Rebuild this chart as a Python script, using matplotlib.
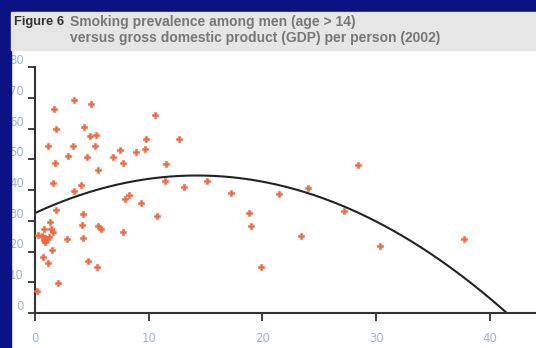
import numpy as np
import matplotlib
matplotlib.use('Agg')
import matplotlib.pyplot as plt
from matplotlib.patches import Rectangle

# GDP per person (thousand US$) and male smoking prevalence (%) by country
gdp = [1.67, 3.46, 4.95, 1.85, 4.28, 4.81, 5.39, 1.11, 3.31, 5.28,
       2.87, 4.60, 6.86, 7.48, 1.73, 5.54, 1.55, 4.02, 3.40, 1.88,
       4.19, 1.32, 4.16, 5.51, 5.80, 0.82, 1.41, 1.55, 0.30, 0.62,
       0.85, 1.05, 0.75, 0.92, 1.20, 2.79, 4.25, 1.50, 0.67, 1.11,
       4.69, 5.48, 2.05, 0.20, 10.55, 9.73, 12.69, 8.85, 9.67, 7.71,
       11.49, 11.46, 13.08, 15.13, 8.30, 7.89, 9.32, 10.76, 7.77, 17.27,
       21.46, 24.04, 28.44, 18.82, 19.00, 27.15, 23.40, 30.34, 19.88, 37.73]
smoking = [66.3, 69.4, 67.9, 60.0, 60.5, 57.7, 57.8, 54.3, 54.3, 54.2,
           51.2, 50.6, 50.8, 53.1, 48.8, 46.5, 42.2, 41.5, 39.7, 33.5,
           32.1, 29.5, 28.7, 28.2, 27.2, 27.4, 27.2, 26.3, 25.3, 25.0,
           24.5, 24.2, 23.7, 23.0, 24.6, 24.1, 24.3, 20.5, 18.2, 16.3,
           16.9, 15.0, 9.7, 7.2, 64.5, 56.7, 56.7, 52.3, 53.3, 48.8,
           48.4, 42.8, 41.0, 42.8, 38.5, 37.0, 35.9, 31.6, 26.2, 39.0,
           38.7, 40.5, 48.0, 32.5, 28.3, 33.2, 25.1, 21.8, 14.9, 24.0]

# quadratic trend: a + b*x + c*x^2
fit_coef = [32.5, 1.715, -0.0602]

x_ticks = [0, 10, 20, 30, 40]
y_ticks = [0, 10, 20, 30, 40, 50, 60, 70, 80]

W, H = 536, 348
fig = plt.figure(figsize=(W / 100, H / 100), dpi=100)
fig.patch.set_facecolor('white')

# navy frame on the left and top, grey title band
navy = '#0b1283'
fig.patches.append(Rectangle((0, 0), 11 / W, 1, transform=fig.transFigure, color=navy, zorder=0))
fig.patches.append(Rectangle((0, 1 - 12 / H), 1, 12 / H, transform=fig.transFigure, color=navy, zorder=0))
fig.patches.append(Rectangle((11 / W, 1 - 50 / H), 1, 38 / H, transform=fig.transFigure,
                             color='#e6e6e6', zorder=0))

title_font = ['Liberation Sans', 'DejaVu Sans']
fig.text(14 / W, 1 - 22 / H, 'Figure 6', family=title_font, fontsize=9.3, fontweight='bold',
         color='#333333', va='center', ha='left')
fig.text(70 / W, 1 - 22 / H, 'Smoking prevalence among men (age > 14)', family=title_font,
         fontsize=10, fontweight='bold', color='#777777', va='center', ha='left')
fig.text(70 / W, 1 - 38 / H, 'versus gross domestic product (GDP) per person (2002)', family=title_font,
         fontsize=10, fontweight='bold', color='#777777', va='center', ha='left')

ax = fig.add_axes([35 / W, (H - 313) / H, 1 - 35 / W, (313 - 67) / H])
ax.set_facecolor('none')
ax.set_xlim(0, (W - 35) / 11.37)
ax.set_ylim(0, 80)

xs = np.linspace(0, 45, 400)
ys = fit_coef[0] + fit_coef[1] * xs + fit_coef[2] * xs ** 2
keep = ys >= 0
ax.plot(xs[keep], ys[keep], color='#222222', lw=1.5, zorder=2)

ax.scatter(gdp, smoking, marker='P', s=20, color='#f4683e', edgecolors='#f4683e', linewidths=0.4,
           zorder=3, clip_on=False)

for side in ['top', 'right']:
    ax.spines[side].set_visible(False)
for side in ['left', 'bottom']:
    ax.spines[side].set_color('#333333')
    ax.spines[side].set_linewidth(1.5)

ax.set_xticks(x_ticks)
ax.set_yticks(y_ticks)
ax.tick_params(axis='both', colors='#333333', width=1.3, labelcolor='#a3b4cc', labelsize=8.5)
ax.tick_params(axis='x', length=6, pad=8)
ax.tick_params(axis='y', length=5, pad=3)
for lbl in ax.get_yticklabels():
    lbl.set_verticalalignment('bottom')

fig.savefig('out.png', dpi=100)
